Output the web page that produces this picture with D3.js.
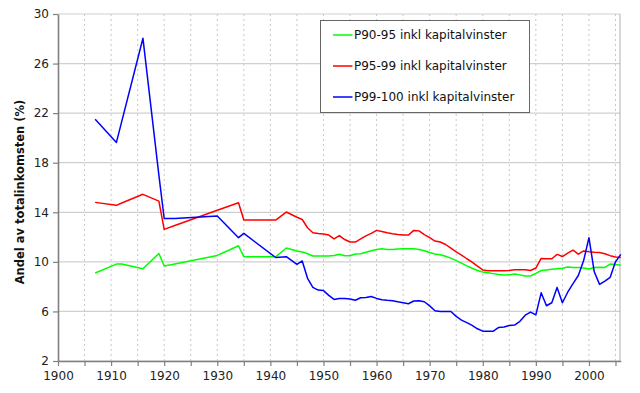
<!DOCTYPE html>
<html>
<head>
<meta charset="utf-8">
<script src="https://cdn.jsdelivr.net/npm/d3@7"></script>
<style>
  body { margin: 0; background: #fff; }
  svg { font-family: "DejaVu Sans", Verdana, sans-serif; }
</style>
</head>
<body>
<div class="chart"></div>
<script>
var years = [1907, 1911, 1912, 1916, 1919, 1920, 1922, 1930, 1934, 1935, 1941, 1943, 1945, 1946, 1947,
  1948, 1949, 1950, 1951, 1952, 1953, 1954, 1955, 1956, 1957, 1958, 1959, 1960, 1961, 1962, 1963,
  1964, 1965, 1966, 1967, 1968, 1969, 1970, 1971, 1972, 1973, 1974, 1975, 1976, 1977, 1978, 1979,
  1980, 1981, 1982, 1983, 1984, 1985, 1986, 1987, 1988, 1989, 1990, 1991, 1992, 1993, 1994, 1995,
  1996, 1997, 1998, 1999, 2000, 2001, 2002, 2003, 2004, 2005, 2006];

var p90_95 = [9.1, 9.82, 9.82, 9.44, 10.68, 9.66, 9.83, 10.52, 11.3, 10.41, 10.41, 11.12, 10.87, 10.8, 10.65,
  10.47, 10.47, 10.47, 10.47, 10.52, 10.62, 10.5, 10.5, 10.63, 10.65, 10.78, 10.9, 11.0, 11.06, 11.0, 11.0,
  11.03, 11.06, 11.06, 11.06, 11.0, 10.9, 10.75, 10.63, 10.58, 10.45, 10.3, 10.1, 9.9, 9.68, 9.48, 9.3,
  9.18, 9.12, 9.05, 8.98, 8.93, 8.95, 9.02, 8.95, 8.86, 8.86, 9.07, 9.3, 9.35, 9.4, 9.45, 9.48,
  9.58, 9.55, 9.55, 9.5, 9.42, 9.55, 9.57, 9.55, 9.82, 9.78, 9.73];

var p95_99 = [14.8, 14.56, 14.75, 15.45, 14.9, 12.62, 12.93, 14.16, 14.77, 13.37, 13.37, 14.02, 13.6, 13.42, 12.75,
  12.35, 12.28, 12.25, 12.16, 11.85, 12.12, 11.8, 11.6, 11.6, 11.85, 12.1, 12.3, 12.54, 12.45, 12.35, 12.27,
  12.2, 12.17, 12.16, 12.54, 12.5, 12.2, 11.95, 11.68, 11.6, 11.4, 11.1, 10.8, 10.55, 10.25, 9.98, 9.65,
  9.35, 9.28, 9.28, 9.28, 9.28, 9.3, 9.37, 9.37, 9.37, 9.3, 9.5, 10.28, 10.25, 10.25, 10.6, 10.43,
  10.7, 10.95, 10.62, 10.88, 10.82, 10.78, 10.76, 10.65, 10.5, 10.4, 10.36];

var p99_100 = [21.5, 19.64, 21.32, 28.04, 17.0, 13.5, 13.5, 13.7, 11.95, 12.3, 10.35, 10.42, 9.8, 10.07, 8.67,
  7.94, 7.72, 7.68, 7.3, 6.97, 7.05, 7.05, 7.0, 6.9, 7.1, 7.13, 7.2, 7.05, 6.95, 6.9, 6.87,
  6.78, 6.7, 6.62, 6.84, 6.86, 6.78, 6.45, 6.05, 6.0, 6.0, 6.0, 5.6, 5.3, 5.1, 4.87, 4.6,
  4.41, 4.4, 4.41, 4.71, 4.75, 4.87, 4.9, 5.2, 5.7, 5.95, 5.72, 7.5, 6.46, 6.7, 7.94, 6.7,
  7.55, 8.25, 8.9, 10.1, 11.95, 9.2, 8.18, 8.45, 8.75, 10.0, 10.6];

var seriesNames = ["P90-95 inkl kapitalvinster", "P95-99 inkl kapitalvinster", "P99-100 inkl kapitalvinster"];
var seriesColors = ["#00ff00", "#ff0000", "#0000ff"];
var yTicks = [2, 6, 10, 14, 18, 22, 26, 30];
var xLabelTicks = [1900, 1910, 1920, 1930, 1940, 1950, 1960, 1970, 1980, 1990, 2000];
var xMinorTicks = d3.range(1900, 2006, 5);

var svgWidth = 640;
var svgHeight = 393;
var margin = { top: 14, right: 20, bottom: 32, left: 58 };
var width = svgWidth - margin.left - margin.right;
var height = svgHeight - margin.top - margin.bottom;

var svg = d3.select(".chart")
  .append("svg")
  .attr("width", svgWidth)
  .attr("height", svgHeight);

var chart = svg.append("g")
  .attr("transform", "translate(" + margin.left + "," + margin.top + ")");

var xScale = d3.scaleLinear().domain([1900, 2006]).range([0, width + 0.8]);
var yScale = d3.scaleLinear().domain([2, 30]).range([height, 0]);

// vertical dotted grid every 5 years
chart.append("g").selectAll("line")
  .data(xMinorTicks.slice(1))
  .enter().append("line")
  .attr("x1", function(d) { return xScale(d); })
  .attr("x2", function(d) { return xScale(d); })
  .attr("y1", 0)
  .attr("y2", height)
  .attr("stroke", "#c8c8c8")
  .attr("stroke-dasharray", "2,3");

// horizontal grid
chart.append("g").selectAll("line")
  .data(yTicks)
  .enter().append("line")
  .attr("x1", 0)
  .attr("x2", width)
  .attr("y1", function(d) { return yScale(d); })
  .attr("y2", function(d) { return yScale(d); })
  .attr("stroke", "#cfcfcf")
  .attr("stroke-width", 1.2);

// right border
chart.append("line")
  .attr("x1", width).attr("x2", width)
  .attr("y1", 0).attr("y2", height)
  .attr("stroke", "#b0b0b0");

// axes
var bottomAxis = d3.axisBottom(xScale)
  .tickValues(xMinorTicks)
  .tickSize(5)
  .tickSizeOuter(0)
  .tickFormat(function(d) { return d % 10 === 0 ? d : ""; });
var leftAxis = d3.axisLeft(yScale)
  .tickValues(yTicks)
  .tickSize(5)
  .tickSizeOuter(0);

var xAxisG = chart.append("g")
  .attr("transform", "translate(0," + height + ")")
  .call(bottomAxis);
var yAxisG = chart.append("g").call(leftAxis);

[xAxisG, yAxisG].forEach(function(g) {
  g.selectAll("path").attr("stroke", "#808080").attr("stroke-width", 1.6);
  g.selectAll("line").attr("stroke", "#808080").attr("stroke-width", 1.2);
  g.selectAll("text")
    .attr("fill", "#222")
    .style("font-family", "DejaVu Sans, Verdana, sans-serif")
    .style("font-size", "12px");
});
xAxisG.selectAll("text").attr("dy", "0.71em").attr("y", 10);
yAxisG.selectAll("text").attr("x", -9);

// lines
var seriesData = [p90_95, p95_99, p99_100];
var line = d3.line()
  .x(function(d, i) { return xScale(years[i]); })
  .y(function(d) { return yScale(d); });

seriesData.forEach(function(values, k) {
  chart.append("path")
    .datum(values)
    .attr("fill", "none")
    .attr("stroke", seriesColors[k])
    .attr("stroke-width", 1.5)
    .attr("stroke-linejoin", "round")
    .attr("d", line);
});

// y axis title
svg.append("text")
  .attr("transform", "translate(24," + 192 + ") rotate(-90)")
  .attr("text-anchor", "middle")
  .style("font-size", "11.5px")
  .style("font-weight", "bold")
  .attr("fill", "#111")
  .text("Andel av totalinkomsten (%)");

// legend
var legend = svg.append("g").attr("transform", "translate(320.5,20.5)");
legend.append("rect")
  .attr("width", 209)
  .attr("height", 92)
  .attr("fill", "#fff")
  .attr("stroke", "#666");

var items = legend.selectAll("g.item")
  .data(seriesNames)
  .enter().append("g")
  .attr("class", "item")
  .attr("transform", function(d, i) { return "translate(0," + (14.5 + i * 31) + ")"; });
items.append("line")
  .attr("x1", 12.5).attr("x2", 32)
  .attr("stroke", function(d, i) { return seriesColors[i]; })
  .attr("stroke-width", 1.5);
items.append("text")
  .attr("x", 33.5)
  .attr("dy", "0.35em")
  .style("font-size", "12px")
  .attr("fill", "#111")
  .text(function(d) { return d; });
</script>
</body>
</html>
